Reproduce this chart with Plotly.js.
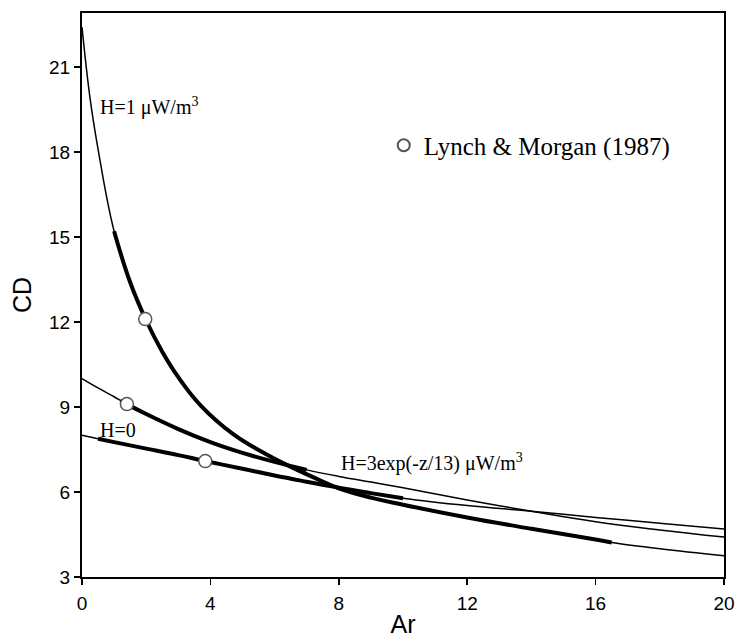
<!DOCTYPE html>
<html>
<head>
<meta charset="utf-8">
<script src="https://cdn.plot.ly/plotly-3.0.1.min.js"></script>
<style>
html,body{margin:0;padding:0;background:#fff;}
#chart{width:738px;height:642px;}
</style>
</head>
<body>
<div id="chart"></div>
<script>
// Curve H = 1 uW/m3
const arH1 = [0, 0.25, 0.5, 1.0, 1.5, 2.0, 2.5, 3.0, 3.7, 4.7, 5.6, 6.3, 7.3, 8.0, 9.0, 10, 12, 14, 16, 16.5, 18, 20];
const cdH1 = [22.4, 19.9, 18.1, 15.2, 13.4, 12.05, 10.95, 10.05, 9.05, 8.05, 7.42, 7.0, 6.47, 6.13, 5.8, 5.55, 5.1, 4.7, 4.32, 4.22, 4.0, 3.75];
const thickH1 = [1.0, 16.5];

// Curve H = 3exp(-z/13) uW/m3
const arH3 = [0, 0.5, 1.0, 1.2, 1.4, 2, 3, 4, 5, 6, 7, 8, 9, 10, 12, 14, 16, 18, 20];
const cdH3 = [10.0, 9.67, 9.36, 9.23, 9.1, 8.75, 8.22, 7.76, 7.38, 7.06, 6.78, 6.55, 6.35, 6.15, 5.72, 5.32, 4.95, 4.66, 4.41];
const thickH3 = [1.2, 7.0];

// Curve H = 0
const arH0 = [0, 0.5, 1, 2, 3, 3.84, 5, 6, 7, 8, 9, 10, 12, 14, 16, 18, 20];
const cdH0 = [8.0, 7.88, 7.76, 7.53, 7.3, 7.09, 6.82, 6.58, 6.36, 6.15, 5.96, 5.78, 5.52, 5.32, 5.1, 4.9, 4.69];
const thickH0 = [0.5, 10];

// Lynch & Morgan (1987) points
const lmAr = [1.97, 1.4, 3.84];
const lmCD = [12.1, 9.1, 7.09];

const xTicks = [0, 4, 8, 12, 16, 20];
const yTicks = [3, 6, 9, 12, 15, 18, 21];

function sub(ar, cd, rng) {
  const x = [], y = [];
  for (let i = 0; i < ar.length; i++) {
    if (ar[i] >= rng[0] - 1e-9 && ar[i] <= rng[1] + 1e-9) { x.push(ar[i]); y.push(cd[i]); }
  }
  return {x, y};
}

const thin = {color: '#000', width: 1.5, shape: 'spline', smoothing: 1.2};
const thick = {color: '#000', width: 4, shape: 'spline', smoothing: 1.2};

const traces = [];
[[arH1, cdH1, thickH1], [arH3, cdH3, thickH3], [arH0, cdH0, thickH0]].forEach(c => {
  traces.push({x: c[0], y: c[1], mode: 'lines', line: thin, showlegend: false, hoverinfo: 'skip'});
  const s = sub(c[0], c[1], c[2]);
  traces.push({x: s.x, y: s.y, mode: 'lines', line: thick, showlegend: false, hoverinfo: 'skip'});
});
traces.push({
  x: lmAr, y: lmCD, mode: 'markers', name: 'Lynch &amp; Morgan (1987)',
  marker: {symbol: 'circle', size: 13, color: '#fff', line: {color: '#555', width: 1.5}},
  showlegend: true
});

const serif = 'Liberation Serif, Times New Roman, serif';
const sans = 'Liberation Sans, Arial, sans-serif';

const layout = {
  width: 738, height: 642,
  margin: {l: 82, r: 14, t: 13, b: 65},
  paper_bgcolor: '#fff', plot_bgcolor: '#fff',
  showlegend: true,
  legend: {
    x: 0.47, y: 0.765, xanchor: 'left', yanchor: 'middle',
    font: {family: serif, size: 25, color: '#000'},
    bgcolor: 'rgba(0,0,0,0)', itemsizing: 'constant', itemwidth: 30
  },
  xaxis: {
    range: [0, 20], tickvals: xTicks, ticktext: xTicks.map(String),
    showgrid: false, zeroline: false,
    showline: true, linecolor: '#000', linewidth: 2, mirror: true,
    ticks: 'outside', ticklen: 6, tickwidth: 1.5, tickcolor: '#000',
    ticklabelstandoff: 2,
    tickfont: {family: sans, size: 19, color: '#000'},
    title: {text: 'Ar', font: {family: sans, size: 25, color: '#000'}, standoff: 3}
  },
  yaxis: {
    range: [3, 22.9], tickvals: yTicks, ticktext: yTicks.map(String),
    showgrid: false, zeroline: false,
    showline: true, linecolor: '#000', linewidth: 2, mirror: true,
    ticks: 'outside', ticklen: 6, tickwidth: 1.5, tickcolor: '#000',
    tickfont: {family: sans, size: 19, color: '#000'},
    title: {text: 'CD', font: {family: sans, size: 25, color: '#000'}, standoff: 10}
  },
  annotations: [
    {x: 0.5, y: 19.6, xref: 'x', yref: 'y', xanchor: 'left', yanchor: 'middle', showarrow: false,
     text: 'H=1 μW/m<sup>3</sup>', font: {family: serif, size: 20, color: '#000'}},
    {x: 0.5, y: 8.2, xref: 'x', yref: 'y', xanchor: 'left', yanchor: 'middle', showarrow: false,
     text: 'H=0', font: {family: serif, size: 20, color: '#000'}},
    {x: 8.0, y: 7.05, xref: 'x', yref: 'y', xanchor: 'left', yanchor: 'middle', showarrow: false,
     text: 'H=3exp(-z/13) μW/m<sup>3</sup>', font: {family: serif, size: 20, color: '#000'}}
  ]
};

Plotly.newPlot('chart', traces, layout, {staticPlot: true, displayModeBar: false});
</script>
</body>
</html>
